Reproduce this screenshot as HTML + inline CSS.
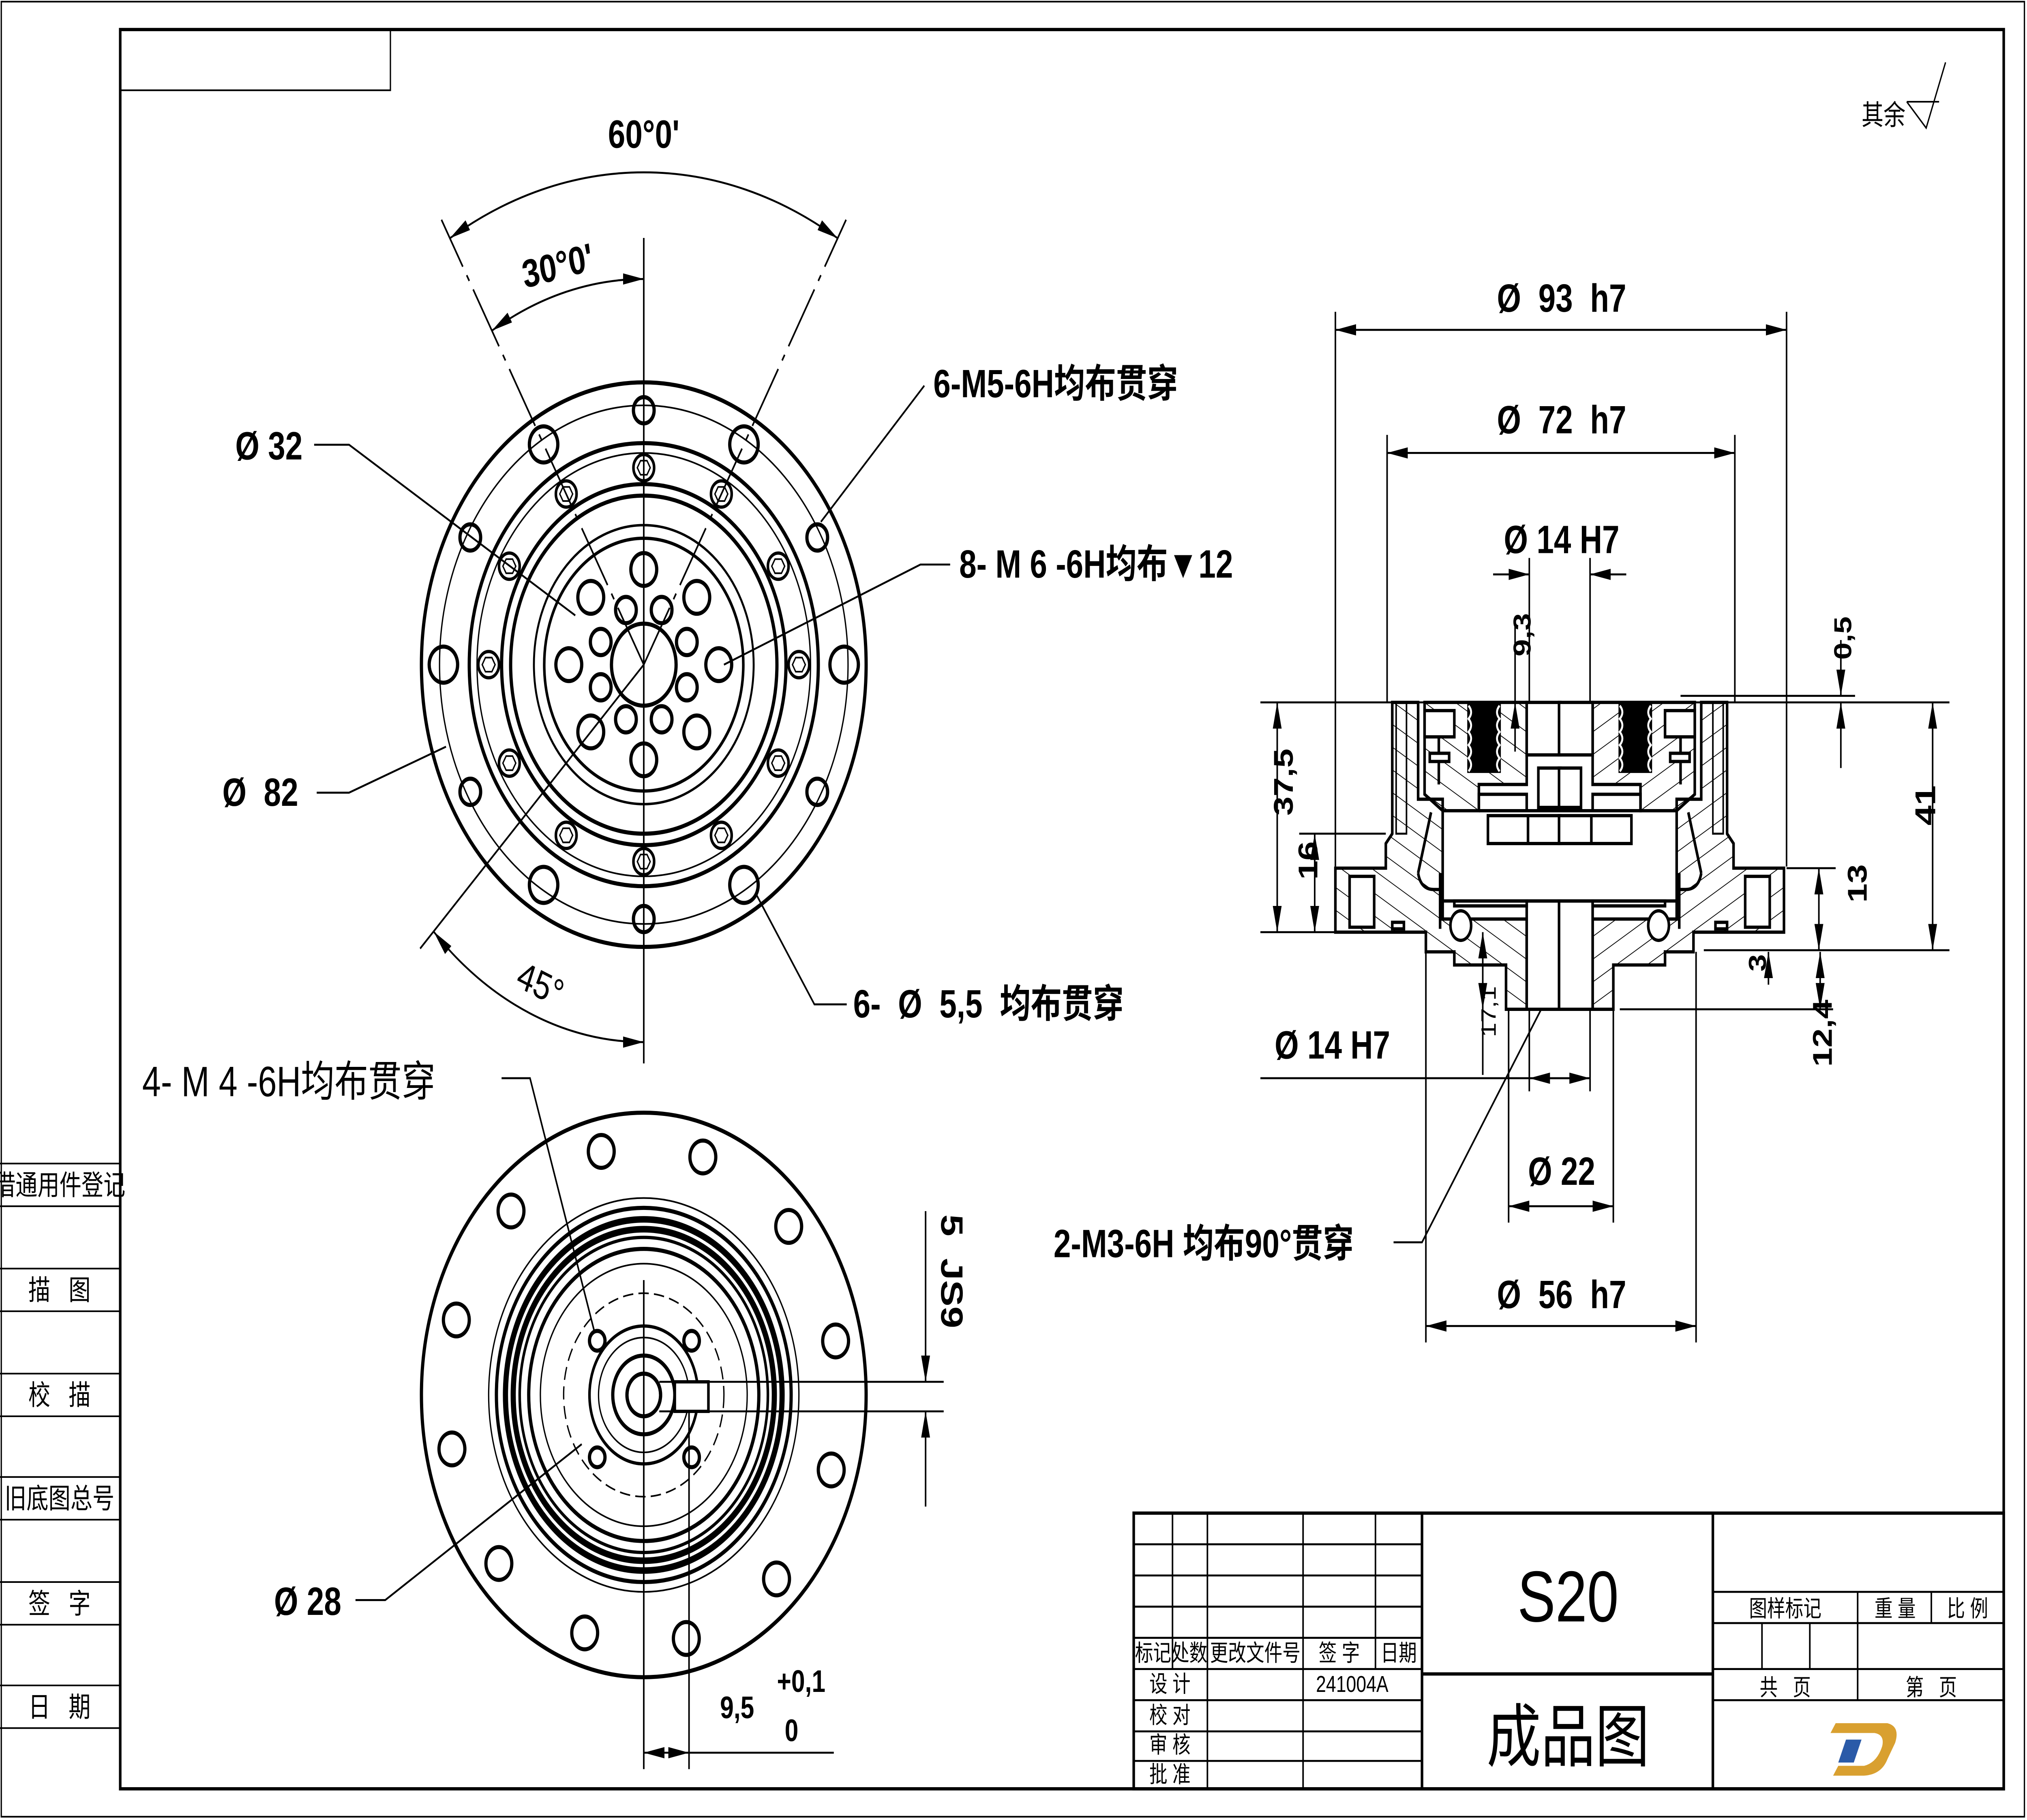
<!DOCTYPE html>
<html><head><meta charset="utf-8"><style>
html,body{margin:0;padding:0;background:#fff;overflow:hidden;width:100%;height:100%}
svg{display:block;position:fixed;left:0;top:0;width:100vw;height:100vh}
text{font-family:"Liberation Sans","Noto Sans CJK SC",sans-serif;fill:#000}
.b{font-weight:bold;font-size:24px}
.t{font-size:14px}
</style></head><body>
<svg viewBox="0 0 1568 1109" preserveAspectRatio="none" xmlns="http://www.w3.org/2000/svg">
<defs>
<marker id="a" markerUnits="userSpaceOnUse" markerWidth="16" markerHeight="8" refX="14" refY="3" orient="auto-start-reverse" viewBox="0 0 14 6"><path d="M0,0 L14,3 L0,6 z" fill="#000"/></marker>
<pattern id="h" width="12" height="12" patternUnits="userSpaceOnUse" patternTransform="rotate(-60)"><line x1="0" y1="0" x2="0" y2="12" stroke="#000" stroke-width="1"/></pattern>
<symbol id="bh" viewBox="-9 -9 18 18" overflow="visible"><circle r="8" fill="none" stroke="#000" stroke-width="2"/><polygon points="5,0 2.5,4.3 -2.5,4.3 -5,0 -2.5,-4.3 2.5,-4.3" fill="none" stroke="#000" stroke-width="1"/></symbol>
</defs>
<rect width="1568" height="1109" fill="#fff"/>
<g fill="none" stroke="#000">
<rect x="93" y="18" width="1457" height="1072" stroke-width="2"/>
<rect x="1" y="1" width="1565" height="1106" stroke-width="1"/>
<polyline points="93,55 302,55 302,18" stroke-width="1"/>
<g stroke-width="1">
<line x1="0" y1="709" x2="93" y2="709"/><line x1="0" y1="735" x2="93" y2="735"/>
<line x1="0" y1="773" x2="93" y2="773"/><line x1="0" y1="799" x2="93" y2="799"/>
<line x1="0" y1="837" x2="93" y2="837"/><line x1="0" y1="863" x2="93" y2="863"/>
<line x1="0" y1="900" x2="93" y2="900"/><line x1="0" y1="926" x2="93" y2="926"/>
<line x1="0" y1="964" x2="93" y2="964"/><line x1="0" y1="990" x2="93" y2="990"/>
<line x1="0" y1="1027" x2="93" y2="1027"/><line x1="0" y1="1053" x2="93" y2="1053"/>
</g>
<polyline points="1475,62 1490,78 1505,38" stroke-width="1"/><line x1="1475" y1="62" x2="1500" y2="62" stroke-width="1"/>

<g transform="translate(498,405)">
<circle r="172" stroke-width="2.5"/>
<circle r="158" stroke-width="1"/>
<circle r="135" stroke-width="2.5"/>
<circle r="129" stroke-width="1"/>
<circle r="110" stroke-width="2.5"/>
<circle r="103" stroke-width="2.5"/>
<circle r="85" stroke-width="1.5"/>
<circle r="77" stroke-width="2"/>
<circle r="25" stroke-width="2.5"/>
</g>
<g stroke-width="2.5">
<circle cx="420.5" cy="270.8" r="11"/><circle cx="575.5" cy="270.8" r="11"/>
<circle cx="343" cy="405" r="11"/><circle cx="653" cy="405" r="11"/>
<circle cx="420.5" cy="539.2" r="11"/><circle cx="575.5" cy="539.2" r="11"/>
<circle cx="498" cy="250" r="8"/><circle cx="498" cy="560" r="8"/>
<circle cx="363.8" cy="327.5" r="8"/><circle cx="632.2" cy="327.5" r="8"/>
<circle cx="363.8" cy="482.5" r="8"/><circle cx="632.2" cy="482.5" r="8"/>
<circle cx="498" cy="347" r="10"/><circle cx="539" cy="364" r="10"/><circle cx="556" cy="405" r="10"/><circle cx="539" cy="446" r="10"/>
<circle cx="498" cy="463" r="10"/><circle cx="457" cy="446" r="10"/><circle cx="440" cy="405" r="10"/><circle cx="457" cy="364" r="10"/>
<circle cx="511.8" cy="371.7" r="8"/><circle cx="531.3" cy="391.2" r="8"/><circle cx="531.3" cy="418.8" r="8"/><circle cx="511.8" cy="438.3" r="8"/>
<circle cx="484.2" cy="438.3" r="8"/><circle cx="464.7" cy="418.8" r="8"/><circle cx="464.7" cy="391.2" r="8"/><circle cx="484.2" cy="371.7" r="8"/>
</g>
<g>
<use href="#bh" x="489" y="276" width="18" height="18"/><use href="#bh" x="549" y="292" width="18" height="18"/>
<use href="#bh" x="593" y="336" width="18" height="18"/><use href="#bh" x="609" y="396" width="18" height="18"/>
<use href="#bh" x="593" y="456" width="18" height="18"/><use href="#bh" x="549" y="500" width="18" height="18"/>
<use href="#bh" x="489" y="516" width="18" height="18"/><use href="#bh" x="429" y="500" width="18" height="18"/>
<use href="#bh" x="385" y="456" width="18" height="18"/><use href="#bh" x="369" y="396" width="18" height="18"/>
<use href="#bh" x="385" y="336" width="18" height="18"/><use href="#bh" x="429" y="292" width="18" height="18"/>
</g>
<g stroke-width="1.2">
<line x1="498" y1="145" x2="498" y2="648"/>
<line x1="498" y1="405" x2="341.5" y2="133.9" stroke-dasharray="40,6,4,6"/>
<line x1="498" y1="405" x2="654.5" y2="133.9" stroke-dasharray="40,6,4,6"/>
<path d="M348,145.2 A300,300 0 0 1 648,145.2" marker-start="url(#a)" marker-end="url(#a)"/>
<path d="M380.5,201.5 A235,235 0 0 1 498,170" marker-start="url(#a)" marker-end="url(#a)"/>
<line x1="498" y1="405" x2="325" y2="578"/>
<path d="M335.4,567.6 A230,230 0 0 0 498,635" marker-start="url(#a)" marker-end="url(#a)"/>
<polyline points="243,271 270,271 445,375"/>
<polyline points="715,235 635,318"/>
<polyline points="735,344 712,344 560,405"/>
<polyline points="245,483 270,483 345,455"/>
<polyline points="655,612 630,612 585,545"/>
<polyline points="388,657 410,657 460,812"/>
<polyline points="275,975 298,975 450,880"/>
</g>

<g transform="translate(498,850)">
<circle r="172" stroke-width="2.5"/>
<circle r="120" stroke-width="1"/>
<circle r="114" stroke-width="2.5"/>
<circle r="107" stroke-width="4"/>
<circle r="101" stroke-width="4"/>
<circle r="96" stroke-width="2"/>
<circle r="89" stroke-width="2.5"/>
<circle r="80" stroke-width="1"/>
<circle r="62" stroke-width="1" stroke-dasharray="8,4"/>
<circle r="42" stroke-width="2"/>
<circle r="35" stroke-width="1"/>
<circle r="24" stroke-width="2.5"/>
<circle r="13" stroke-width="2.5"/>
</g>
<g stroke-width="2.5">
<circle cx="465.1" cy="701.6" r="10"/><circle cx="543.7" cy="705" r="10"/><circle cx="610.1" cy="747.3" r="10"/>
<circle cx="646.4" cy="817.1" r="10"/><circle cx="643" cy="895.7" r="10"/><circle cx="600.7" cy="962.1" r="10"/>
<circle cx="530.9" cy="998.4" r="10"/><circle cx="452.3" cy="995" r="10"/><circle cx="385.9" cy="952.7" r="10"/>
<circle cx="349.6" cy="882.9" r="10"/><circle cx="353" cy="804.3" r="10"/><circle cx="395.3" cy="737.9" r="10"/>
<circle cx="462" cy="817" r="6"/><circle cx="535" cy="817" r="6"/><circle cx="462" cy="888" r="6"/><circle cx="535" cy="888" r="6"/>
</g>
<g stroke-width="1.2">
<line x1="498" y1="780" x2="498" y2="1078"/>
<line x1="533" y1="860" x2="533" y2="1078"/>
<line x1="510" y1="842" x2="730" y2="842"/>
<line x1="510" y1="860" x2="730" y2="860"/>
<line x1="716" y1="738" x2="716" y2="842" marker-end="url(#a)"/>
<line x1="716" y1="918" x2="716" y2="860" marker-end="url(#a)"/>
<line x1="498" y1="1068" x2="533" y2="1068" marker-start="url(#a)" marker-end="url(#a)"/>
<line x1="533" y1="1068" x2="645" y2="1068"/>
</g>
<rect x="522" y="842" width="26" height="18" stroke-width="2" fill="#fff"/>
<circle cx="498" cy="850" r="13" stroke-width="2.5"/>

<g stroke-width="1.2">
<line x1="975" y1="428" x2="1508" y2="428"/>
<line x1="1300" y1="424" x2="1435" y2="424"/>
<line x1="1318" y1="579" x2="1508" y2="579"/>
<line x1="975" y1="568" x2="1033" y2="568"/>
<line x1="1005" y1="508" x2="1072" y2="508"/>
<line x1="1382" y1="529" x2="1420" y2="529"/>
<line x1="1253" y1="615" x2="1418" y2="615"/>
<line x1="1033" y1="190" x2="1033" y2="528"/><line x1="1382" y1="190" x2="1382" y2="528"/>
<line x1="1073" y1="265" x2="1073" y2="428"/><line x1="1342" y1="265" x2="1342" y2="428"/>
<line x1="1183" y1="340" x2="1183" y2="428"/><line x1="1230" y1="340" x2="1230" y2="428"/>
<line x1="1183" y1="615" x2="1183" y2="665"/><line x1="1230" y1="615" x2="1230" y2="665"/>
<line x1="1167" y1="615" x2="1167" y2="745"/><line x1="1248" y1="615" x2="1248" y2="745"/>
<line x1="1103" y1="580" x2="1103" y2="818"/><line x1="1312" y1="580" x2="1312" y2="818"/>
<line x1="1033" y1="201" x2="1382" y2="201" marker-start="url(#a)" marker-end="url(#a)"/>
<line x1="1073" y1="276" x2="1342" y2="276" marker-start="url(#a)" marker-end="url(#a)"/>
<line x1="1155" y1="350" x2="1183" y2="350" marker-end="url(#a)"/>
<line x1="1258" y1="350" x2="1230" y2="350" marker-end="url(#a)"/>
<line x1="1172" y1="380" x2="1172" y2="428"/>
<line x1="1172" y1="428" x2="1172" y2="458" marker-start="url(#a)"/>
<line x1="1424" y1="390" x2="1424" y2="424" marker-end="url(#a)"/>
<line x1="1424" y1="468" x2="1424" y2="428" marker-end="url(#a)"/>
<line x1="1495" y1="428" x2="1495" y2="579" marker-start="url(#a)" marker-end="url(#a)"/>
<line x1="988" y1="428" x2="988" y2="568" marker-start="url(#a)" marker-end="url(#a)"/>
<line x1="1017" y1="508" x2="1017" y2="568" marker-start="url(#a)" marker-end="url(#a)"/>
<line x1="1407" y1="529" x2="1407" y2="579" marker-start="url(#a)" marker-end="url(#a)"/>
<line x1="1368" y1="600" x2="1368" y2="580" marker-end="url(#a)"/>
<line x1="1408" y1="580" x2="1408" y2="615" marker-start="url(#a)" marker-end="url(#a)"/>
<line x1="1147" y1="568" x2="1147" y2="615" marker-start="url(#a)" marker-end="url(#a)"/>
<line x1="1147" y1="615" x2="1147" y2="655"/>
<line x1="975" y1="657" x2="1230" y2="657" marker-end="url(#a)"/>
<line x1="1230" y1="657" x2="1183" y2="657" marker-end="url(#a)"/>
<line x1="1167" y1="735" x2="1248" y2="735" marker-start="url(#a)" marker-end="url(#a)"/>
<line x1="1103" y1="808" x2="1312" y2="808" marker-start="url(#a)" marker-end="url(#a)"/>
<polyline points="1078,757 1100,757 1200,603"/>
</g>
<circle cx="1202" cy="600" r="4" stroke-width="2.5"/>

<g id="sl" stroke-width="2">
<polygon points="1077,428 1077,508 1072,514 1072,529 1033,529 1033,568 1103,568 1103,580 1125,580 1125,588 1165,588 1165,615 1181,615 1181,560 1116,560 1116,487 1097,487 1097,428" fill="url(#h)"/>
<polygon points="1102,428 1181,428 1181,478 1144,478 1144,494 1116,494 1102,484" fill="url(#h)"/>
<rect x="1044" y="534" width="19" height="31" fill="#fff"/>
<rect x="1077" y="562" width="9" height="4" fill="#fff"/>
<rect x="1102" y="433" width="23" height="16" fill="#fff"/>
<line x1="1113" y1="449" x2="1113" y2="478"/>
<rect x="1106" y="459" width="15" height="5" fill="#fff"/>
<rect x="1135" y="428" width="26" height="43" fill="#000" stroke="none"/>
<path d="M1136,430 q4,4 0,8 q4,4 0,8 q4,4 0,8 q4,4 0,8 q4,4 0,8 M1160,430 q-4,4 0,8 q-4,4 0,8 q-4,4 0,8 q-4,4 0,8 q-4,4 0,8" stroke="#fff" stroke-width="1.5"/>
<rect x="1181" y="428" width="26" height="32" fill="#fff"/>
<rect x="1190" y="468" width="17" height="24" fill="#fff"/>
<rect x="1151" y="497" width="56" height="17" fill="#fff"/>
<line x1="1182" y1="497" x2="1182" y2="514"/>
<path d="M1144,494 L1144,484 L1181,484 L1181,494" fill="#fff"/>
<line x1="1107" y1="495" x2="1097" y2="532"/>
<path d="M1097,532 q2,10 12,10 l5,0" />
<line x1="1114" y1="532" x2="1114" y2="566"/>
<ellipse cx="1130" cy="564" rx="8" ry="9" fill="#fff"/>
<rect x="1181" y="549" width="26" height="66" fill="#fff"/>
<rect x="1125" y="549" width="56" height="3" fill="#fff"/>
<rect x="1080" y="428" width="8" height="80" fill="none" stroke-width="1.2"/>
</g>
<use href="#sl" transform="translate(2413,0) scale(-1,1)"/>
<line x1="1116" y1="549" x2="1297" y2="549" stroke-width="2"/>
<line x1="1144" y1="494" x2="1270" y2="494" stroke-width="2"/>

<rect x="877" y="922" width="673" height="168" stroke-width="2"/>
<g stroke-width="1.2">
<line x1="877" y1="941" x2="1100" y2="941"/><line x1="877" y1="960" x2="1100" y2="960"/>
<line x1="877" y1="979" x2="1100" y2="979"/><line x1="877" y1="998" x2="1100" y2="998"/>
<line x1="877" y1="1017" x2="1100" y2="1017"/><line x1="877" y1="1036" x2="1100" y2="1036"/>
<line x1="877" y1="1055" x2="1100" y2="1055"/><line x1="877" y1="1073" x2="1100" y2="1073"/>
<line x1="907" y1="922" x2="907" y2="1017"/><line x1="934" y1="922" x2="934" y2="1090"/>
<line x1="1008" y1="922" x2="1008" y2="1090"/><line x1="1064" y1="922" x2="1064" y2="1017"/>
<line x1="1100" y1="922" x2="1100" y2="1090" stroke-width="2"/>
<line x1="1100" y1="1020" x2="1325" y2="1020" stroke-width="2"/>
<line x1="1325" y1="922" x2="1325" y2="1090" stroke-width="2"/>
<line x1="1325" y1="970" x2="1550" y2="970"/><line x1="1325" y1="989" x2="1550" y2="989"/>
<line x1="1325" y1="1017" x2="1550" y2="1017"/><line x1="1325" y1="1036" x2="1550" y2="1036"/>
<line x1="1437" y1="970" x2="1437" y2="1036"/><line x1="1494" y1="970" x2="1494" y2="989"/>
<line x1="1363" y1="989" x2="1363" y2="1017"/><line x1="1400" y1="989" x2="1400" y2="1017"/>
</g>
</g>
<path d="M1420,1050 L1460,1050 Q1470,1052 1466,1062 L1460,1072 Q1455,1082 1440,1082 L1418,1082 L1422,1076 L1442,1076 Q1452,1074 1456,1064 Q1458,1057 1450,1056 L1416,1056 Z" fill="#d9a030"/>
<path d="M1428,1060 L1440,1060 L1434,1074 L1422,1074 Z" fill="#2a5aa8"/>

<g class="b">
<text x="498" y="90" text-anchor="middle">60°0'</text>
<text x="433" y="170" text-anchor="middle" transform="rotate(-12 433 170)">30°0'</text>
<text x="418" y="608" text-anchor="middle" transform="rotate(22 418 600)" style="font-weight:normal">45°</text>
<text x="182" y="280">Ø 32</text>
<text x="172" y="491">Ø&#160;&#160;82</text>
<text x="722" y="242">6-M5-6H均布贯穿</text>
<text x="742" y="352">8- M 6 -6H均布▼12</text>
<text x="660" y="620">6- &#160;Ø &#160;5,5 &#160;均布贯穿</text>
<text x="110" y="668" style="font-weight:normal;font-size:26px">4- M 4 -6H均布贯穿</text>
<text x="212" y="984">Ø 28</text>
<text x="728" y="740" transform="rotate(90 728 740)">5 &#160;JS9</text>
<text x="557" y="1047" style="font-size:19px">9,5</text>
<text x="601" y="1031" style="font-size:19px">+0,1</text>
<text x="607" y="1061" style="font-size:19px">0</text>
<text x="1208" y="190" text-anchor="middle">Ø &#160;93 &#160;h7</text>
<text x="1208" y="264" text-anchor="middle">Ø &#160;72 &#160;h7</text>
<text x="1208" y="337" text-anchor="middle">Ø 14 H7</text>
<text x="1166" y="418" transform="rotate(-90 1166 400)" style="font-size:19px">9,3</text>
<text x="1416" y="418" transform="rotate(-90 1416 402)" style="font-size:19px">0,5</text>
<text x="1488" y="512" transform="rotate(-90 1488 503)" style="font-size:22px">41</text>
<text x="979" y="518" transform="rotate(-90 979 497)" style="font-size:21px">37,5</text>
<text x="1009" y="546" transform="rotate(-90 1009 536)" style="font-size:21px">16</text>
<text x="1434" y="560" transform="rotate(-90 1434 550)" style="font-size:21px">13</text>
<text x="1360" y="598" transform="rotate(-90 1360 592)" style="font-size:19px">3</text>
<text x="1397" y="670" transform="rotate(-90 1397 650)" style="font-size:21px">12,4</text>
<text x="1141" y="648" transform="rotate(-90 1141 632)" style="font-size:16px;font-weight:normal">17,1</text>
<text x="986" y="645">Ø 14 H7</text>
<text x="1208" y="722" text-anchor="middle">Ø 22</text>
<text x="1208" y="797" text-anchor="middle">Ø &#160;56 &#160;h7</text>
<text x="815" y="766">2-M3-6H 均布90°贯穿</text>
</g>
<g class="t">
<text x="1440" y="76" style="font-size:17px">其余</text>
<text x="46" y="728" text-anchor="middle" style="font-size:17px">借通用件登记</text>
<text x="46" y="792" text-anchor="middle" style="font-size:17px">描 &#160; 图</text>
<text x="46" y="856" text-anchor="middle" style="font-size:17px">校 &#160; 描</text>
<text x="46" y="919" text-anchor="middle" style="font-size:17px">旧底图总号</text>
<text x="46" y="983" text-anchor="middle" style="font-size:17px">签 &#160; 字</text>
<text x="46" y="1046" text-anchor="middle" style="font-size:17px">日 &#160; 期</text>
<text x="892" y="1012" text-anchor="middle">标记</text>
<text x="920" y="1012" text-anchor="middle">处数</text>
<text x="971" y="1012" text-anchor="middle">更改文件号</text>
<text x="1036" y="1012" text-anchor="middle">签 字</text>
<text x="1082" y="1012" text-anchor="middle">日期</text>
<text x="905" y="1031" text-anchor="middle">设 计</text>
<text x="905" y="1050" text-anchor="middle">校 对</text>
<text x="905" y="1068" text-anchor="middle">审 核</text>
<text x="905" y="1086" text-anchor="middle">批 准</text>
<text x="1046" y="1031" text-anchor="middle">241004A</text>
<text x="1381" y="985" text-anchor="middle">图样标记</text>
<text x="1466" y="985" text-anchor="middle">重 量</text>
<text x="1522" y="985" text-anchor="middle">比 例</text>
<text x="1381" y="1033" text-anchor="middle">共 &#160; 页</text>
<text x="1494" y="1033" text-anchor="middle">第 &#160; 页</text>
<text x="1213" y="988" text-anchor="middle" style="font-size:44px">S20</text>
<text x="1213" y="1073" text-anchor="middle" style="font-size:42px">成品图</text>
</g>
</svg>
</body></html>
